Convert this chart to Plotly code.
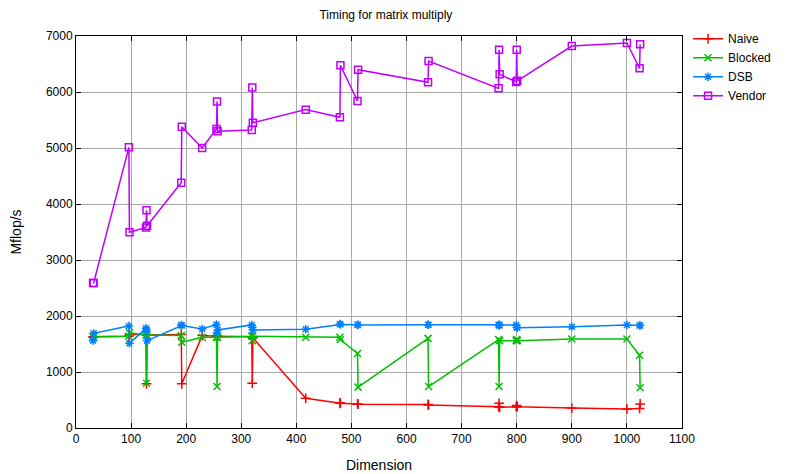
import plotly.graph_objects as go

dims = [31, 32, 96, 97, 127, 128, 129, 191, 192, 229, 255, 256, 257, 319, 320, 321,
        417, 479, 480, 511, 512, 639, 640, 767, 768, 769, 799, 800, 801, 900, 1000, 1023, 1024]

naive = [1620, 1630, 1640, 1670, 1670, 790, 1660, 1670, 790, 1650, 1640, 1630, 1640, 1630, 800, 1610,
         530, 450, 440, 430, 425, 420, 410, 380, 440, 370, 380, 400, 380, 355, 340, 350, 430]

blocked = [1630, 1630, 1640, 1700, 1660, 800, 1660, 1650, 1530, 1620, 1620, 740, 1620, 1640, 1560, 1640,
           1620, 1620, 1580, 1330, 730, 1600, 740, 1580, 740, 1560, 1560, 1580, 1560, 1590, 1590, 1300, 720]

dsb = [1560, 1690, 1821, 1512, 1780, 1750, 1560, 1839, 1830, 1768, 1850, 1700, 1750, 1840, 1800, 1750,
       1765, 1857, 1850, 1845, 1840, 1845, 1845, 1845, 1830, 1840, 1840, 1800, 1790, 1810, 1839, 1830, 1830]

vendor = [2590, 2590, 5012, 3494, 3580, 3890, 3610, 4381, 5381, 5000, 5340, 5830, 5300, 5320, 6080, 5450,
          5685, 5548, 6476, 5839, 6399, 6173, 6554, 6065, 6756, 6315, 6180, 6756, 6200, 6821, 6875, 6423, 6851]

series = [
    ("Naive", naive, "#ff0000", "cross-thin-open", 7),
    ("Blocked", blocked, "#00c000", "x-thin-open", 7),
    ("DSB", dsb, "#0080ff", "asterisk-open", 7),
    ("Vendor", vendor, "#c000ff", "square-open", 7),
]

fig = go.Figure()
for name, vals, color, sym, size in series:
    fig.add_trace(go.Scatter(
        x=dims, y=vals, name=name, mode="lines+markers",
        line=dict(color=color, width=1.5),
        marker=dict(symbol=sym, size=size, color=color, line=dict(color=color, width=1.5)),
    ))

FONT = "Liberation Sans, Arial, sans-serif"
axis_common = dict(
    showgrid=True, gridcolor="#a8a8a8", gridwidth=1, automargin=False,
    zeroline=False, showline=True, linecolor="black", linewidth=1,
    mirror="allticks", ticks="inside", ticklen=5, tickcolor="black",
    tickfont=dict(family=FONT, size=12, color="black"),
)

fig.update_layout(
    width=784, height=466,
    paper_bgcolor="white", plot_bgcolor="white",
    margin=dict(l=68, r=110, t=28, b=46),
    title=dict(text="Timing for matrix multiply", x=0.482, xanchor="center", y=0.995, yanchor="top",
               font=dict(family=FONT, size=12, color="black")),
    font=dict(family=FONT, size=12, color="black"),
    xaxis=dict(range=[0, 1100], dtick=100, tick0=0,
               title=dict(text="Dimension", standoff=14), **axis_common),
    yaxis=dict(range=[0, 7000], dtick=1000, tick0=0,
               title=dict(text="Mflop/s", standoff=22), **axis_common),
    legend=dict(x=1.01, y=1.03, xanchor="left", yanchor="top", bgcolor="rgba(0,0,0,0)",
                font=dict(size=12), tracegroupgap=0, itemwidth=30),
    showlegend=True,
)

fig.write_html("out.html")
